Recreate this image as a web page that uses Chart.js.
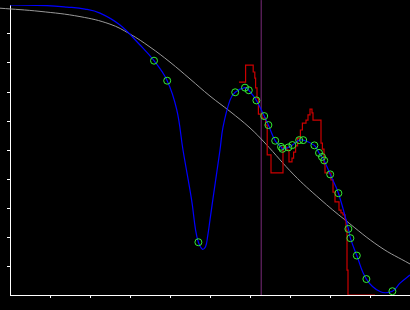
<!DOCTYPE html>
<html>
<head>
<meta charset="utf-8">
<script src="https://cdn.jsdelivr.net/npm/chart.js@4"></script>
<style>
  html, body { margin: 0; padding: 0; background: #000; }
  #wrap { width: 410px; height: 310px; }
</style>
</head>
<body>
<div id="wrap"><canvas id="chart"></canvas></div>
<script>
// axis ticks (no labels on the original)
const xTickValues = [1, 2, 3, 4, 5, 6, 7, 8, 9];
const yTickValues = [1, 2, 3, 4, 5, 6, 7, 8, 9];

// grey reference curve
const refX = [-0.25, 0.75, 1.75, 2.5, 3.0, 3.5, 4.0, 4.5, 5.0, 5.5, 6.0, 6.375, 7.1, 7.75, 8.375, 9.25, 10.0];
const refY = [9.89, 9.78, 9.60, 9.34, 9.0, 8.55, 8.03, 7.45, 6.86, 6.33, 5.76, 5.24, 4.14, 3.31, 2.59, 1.66, 1.07];

// blue fitted curve
const fitX = [0, 0.925, 1.425, 1.875, 2.25, 2.75, 3.25, 3.60, 3.93, 4.17, 4.325, 4.54, 4.64, 4.71, 4.81, 4.89, 4.94, 5.0, 5.07, 5.25, 5.325, 5.5,
  5.63, 5.875, 5.97, 6.16, 6.355, 6.46, 6.63, 6.775, 6.81, 6.96, 7.06, 7.23, 7.33, 7.61, 7.725, 7.80, 7.855, 8.005, 8.21, 8.46, 8.51, 8.67, 8.91, 9.25, 9.56, 9.75, 10.0];
const fitY = [10.0, 9.98, 9.93, 9.86, 9.72, 9.31, 8.62, 8.08, 7.39, 6.38, 5.0, 3.28, 2.24, 1.82, 1.58, 1.67, 2.01, 2.59, 3.28, 5.0, 5.79, 6.72,
  6.99, 7.15, 7.06, 6.71, 6.17, 5.86, 5.32, 5.11, 5.04, 5.09, 5.17, 5.34, 5.34, 5.16, 4.90, 4.76, 4.64, 4.16, 3.51, 2.28, 1.96, 1.36, 0.55, 0.12, 0.13, 0.41, 0.69];

// green sample points
const sampleX = [3.60, 3.93, 4.71, 5.63, 5.875, 5.97, 6.16, 6.355, 6.46, 6.63, 6.775, 6.81, 6.96, 7.06, 7.23, 7.33, 7.61, 7.725, 7.80, 7.855, 8.005, 8.21, 8.46, 8.51, 8.67, 8.91, 9.56];
const sampleY = [8.08, 7.39, 1.82, 6.99, 7.15, 7.06, 6.71, 6.17, 5.86, 5.32, 5.11, 5.04, 5.09, 5.17, 5.34, 5.34, 5.16, 4.90, 4.76, 4.64, 4.16, 3.51, 2.28, 1.96, 1.36, 0.55, 0.13];

// red step trace
const stepX = [5.725, 5.89, 6.08, 6.12, 6.14, 6.175, 6.21, 6.3, 6.39, 6.43, 6.525, 6.825, 6.925, 6.975, 7.05, 7.09, 7.14, 7.19, 7.26, 7.31, 7.4, 7.45, 7.5, 7.55, 7.575,
  7.775, 7.81, 7.85, 7.875, 8.025, 8.075, 8.125, 8.225, 8.275, 8.325, 8.375, 8.4, 8.425, 8.45, 9.125];
const stepY = [7.34, 7.93, 7.69, 7.48, 7.14, 6.79, 6.24, 6.10, 5.86, 4.83, 4.21, 5.10, 5.0, 4.59, 4.72, 4.93, 5.14, 5.41, 5.69, 5.93, 6.03, 6.21, 6.41, 6.28, 6.03,
  5.24, 5.03, 4.55, 4.21, 3.97, 3.55, 3.21, 2.93, 2.83, 2.76, 2.59, 2.24, 0.86, 0, 0];

// vertical marker
const markerX = 6.28;
const markerTop = 10.17;

const pts = (xs, ys) => xs.map((x, i) => ({ x: x, y: ys[i] }));

new Chart(document.getElementById('chart'), {
    type: 'scatter',
    data: {
        datasets: [
            {
                data: pts(sampleX, sampleY),
                showLine: false,
                pointRadius: 3.5,
                pointBorderWidth: 1,
                pointBorderColor: '#33ee33',
                pointBackgroundColor: 'transparent',
                order: 0,
            },
            {
                data: pts(fitX, fitY),
                showLine: true,
                borderColor: '#0000ff',
                borderWidth: 1.2,
                pointRadius: 0,
                tension: 0.4,
                order: 1,
            },
            {
                data: pts(stepX, stepY),
                showLine: true,
                stepped: true,
                borderColor: '#cc0000',
                borderWidth: 1.2,
                pointRadius: 0,
                order: 2,
            },
            {
                data: pts(refX, refY),
                showLine: true,
                borderColor: '#999999',
                borderWidth: 1,
                pointRadius: 0,
                tension: 0.4,
                clip: false,
                order: 3,
            },
            {
                data: [{ x: markerX, y: 0 }, { x: markerX, y: markerTop }],
                showLine: true,
                borderColor: '#7a2a7a',
                borderWidth: 1,
                pointRadius: 0,
                clip: false,
                order: 4,
            },
        ],
    },
    options: {
        responsive: true,
        maintainAspectRatio: false,
        animation: false,
        layout: {
            autoPadding: false,
            padding: { left: 7, top: 5, right: 0, bottom: 12 },
        },
        plugins: {
            legend: { display: false },
            tooltip: { enabled: false },
        },
        scales: {
            x: {
                type: 'linear',
                min: 0,
                max: 10,
                afterBuildTicks: (axis) => {
                    axis.ticks = xTickValues.map((v) => ({ value: v }));
                },
                ticks: { display: false },
                grid: { drawOnChartArea: false, drawTicks: true, tickLength: 3, color: '#ffffff' },
                border: { display: true, color: '#ffffff', width: 1 },
            },
            y: {
                type: 'linear',
                min: 0,
                max: 10,
                afterBuildTicks: (axis) => {
                    axis.ticks = yTickValues.map((v) => ({ value: v }));
                },
                ticks: { display: false },
                grid: { drawOnChartArea: false, drawTicks: true, tickLength: 3, color: '#ffffff' },
                border: { display: true, color: '#ffffff', width: 1 },
            },
        },
    },
});
</script>
</body>
</html>
